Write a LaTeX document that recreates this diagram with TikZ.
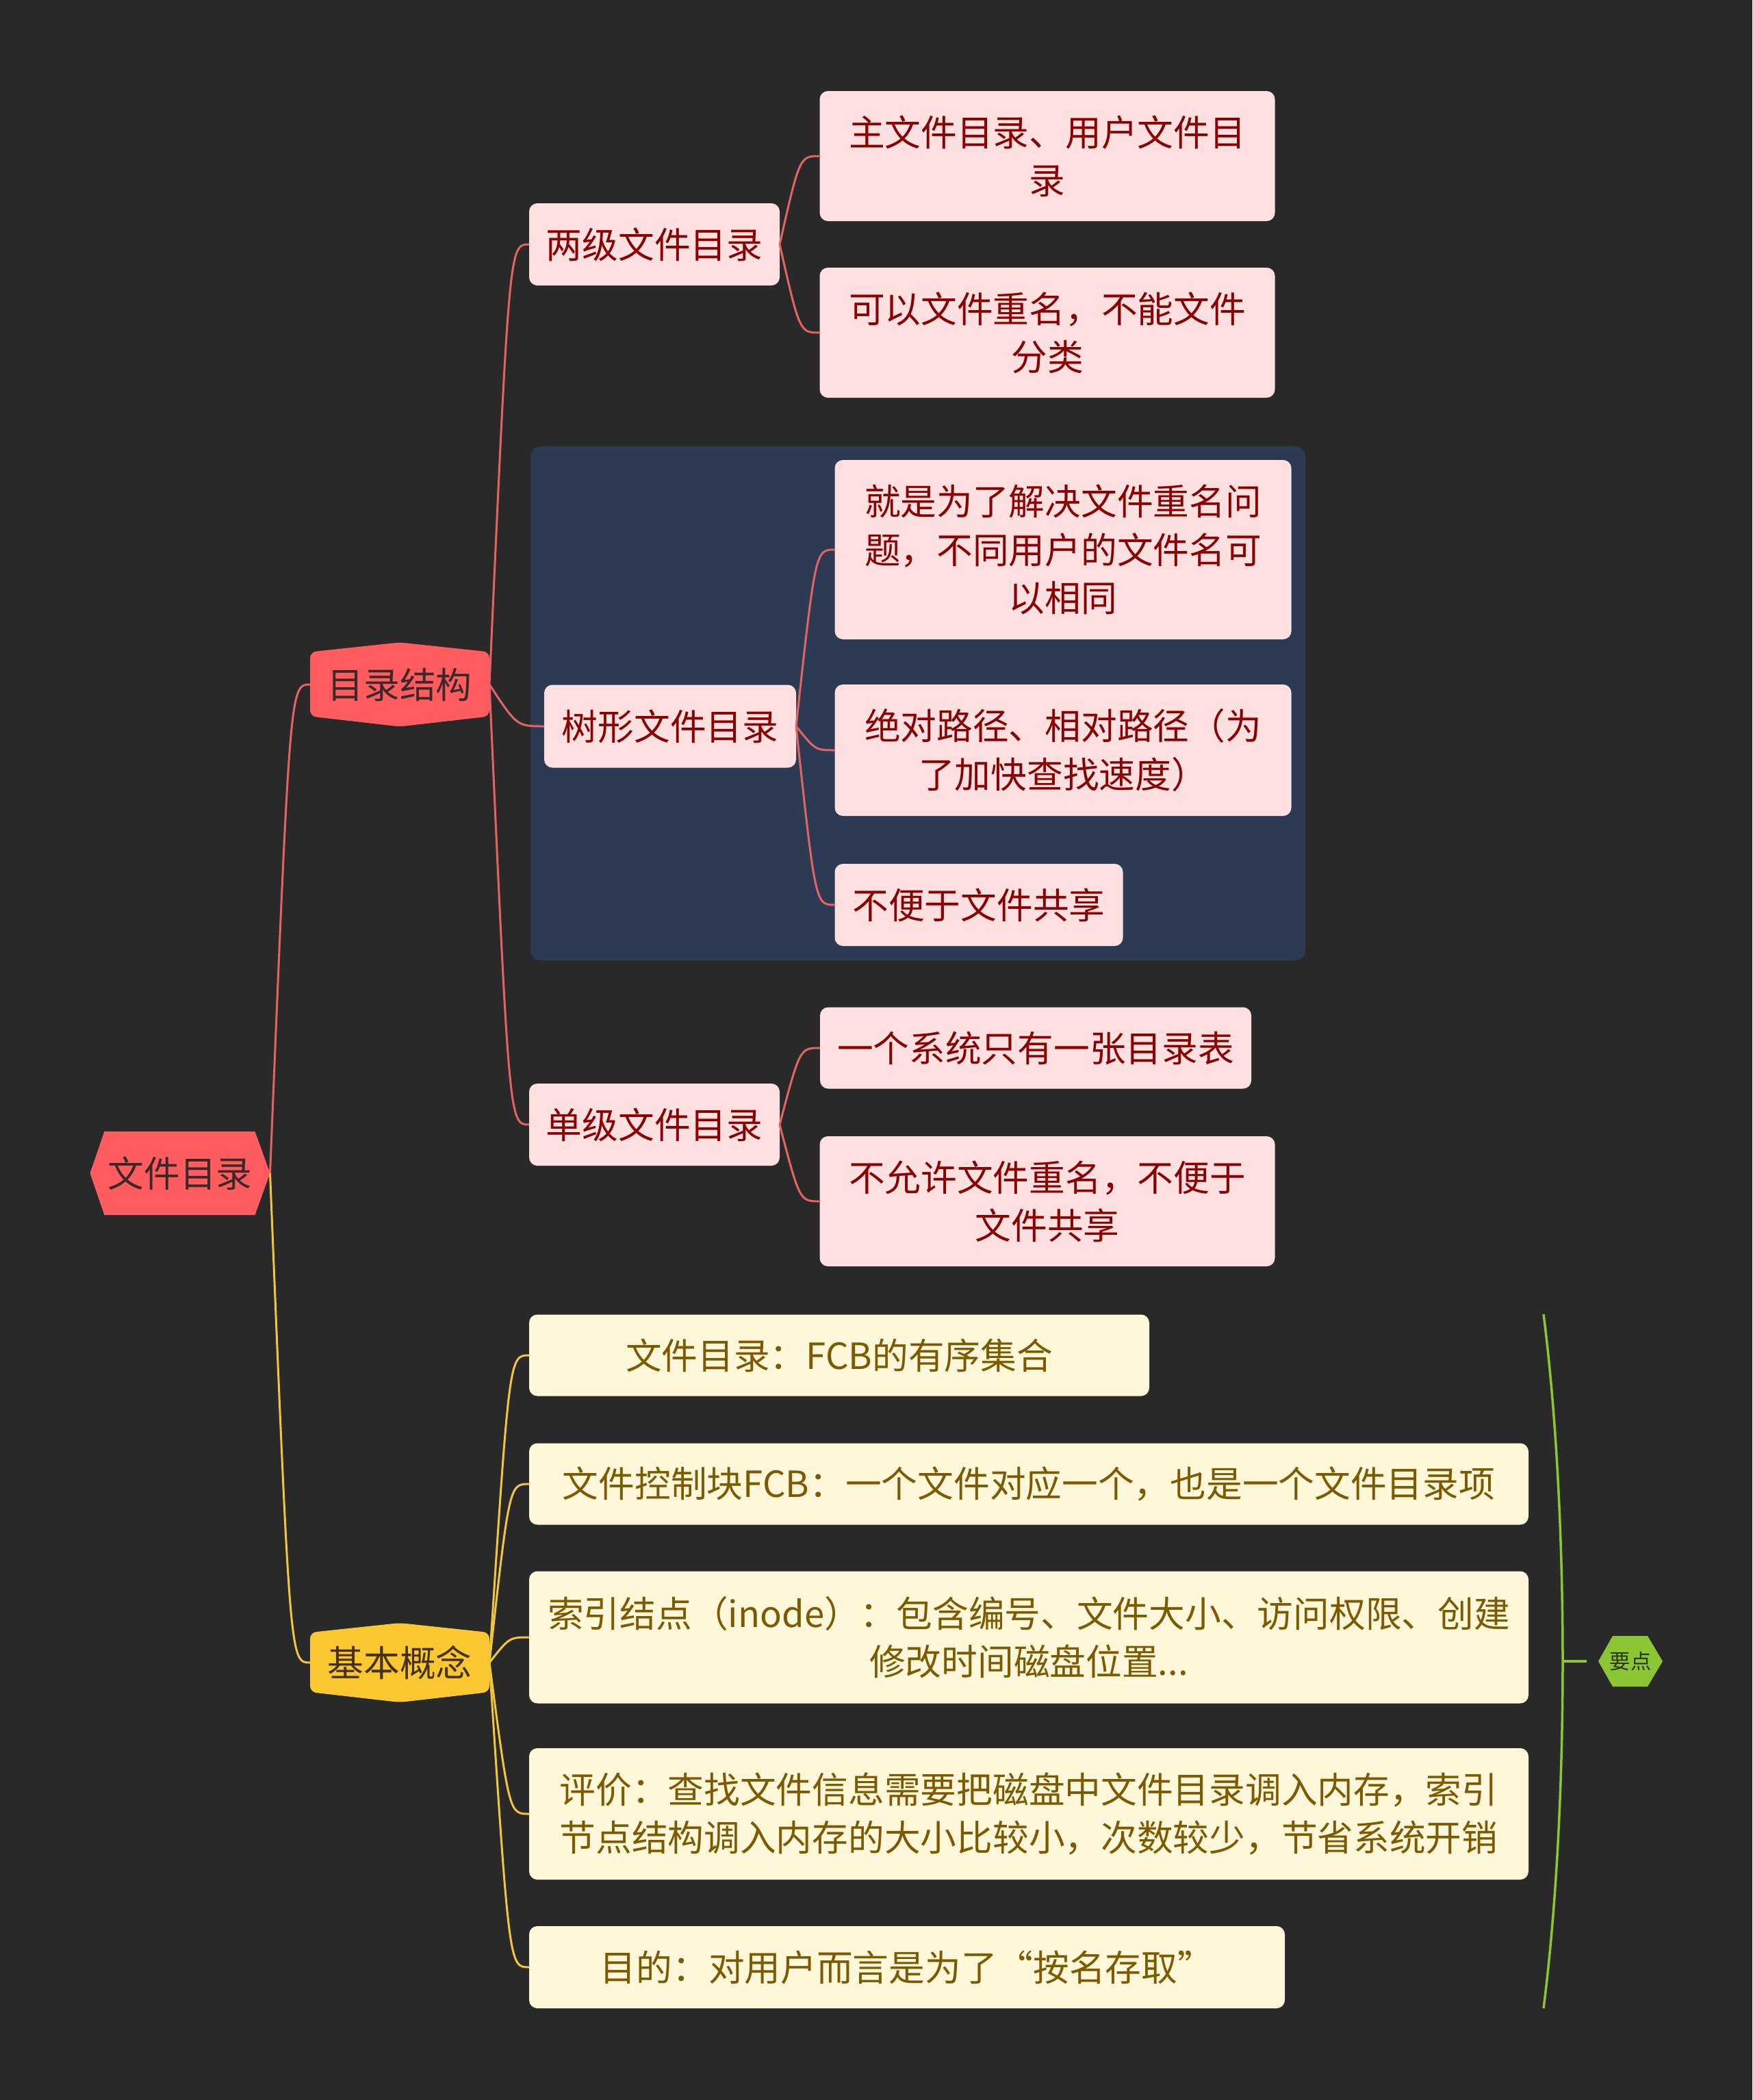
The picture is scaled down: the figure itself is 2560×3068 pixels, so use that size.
\documentclass[tikz,border=0pt]{standalone}
\usepackage{fontspec}
\setmainfont{Noto Sans CJK SC}
\usetikzlibrary{calc}
\definecolor{bgc}{RGB}{41,41,41}
\definecolor{bluebg}{RGB}{44,58,84}
\definecolor{rootred}{RGB}{255,92,95}
\definecolor{roottext}{RGB}{60,40,40}
\definecolor{goldfill}{RGB}{252,200,50}
\definecolor{goldtext}{RGB}{70,50,10}
\definecolor{pinkfill}{RGB}{255,224,224}
\definecolor{pinktext}{RGB}{139,0,0}
\definecolor{creamfill}{RGB}{255,247,218}
\definecolor{creamtext}{RGB}{125,90,0}
\definecolor{linered}{RGB}{228,100,100}
\definecolor{lineyellow}{RGB}{242,198,60}
\definecolor{greenc}{RGB}{140,198,50}
\definecolor{greentext}{RGB}{40,55,10}
\newcommand\myconn[3]{\draw[#1] (#2) .. controls ($(#2 |- #3)!0.5!(#3)$) .. (#3);}
\begin{document}
\begin{tikzpicture}[x=0.1mm,y=-0.1mm,
  base/.style={rectangle, inner sep=0pt, outer sep=0pt, align=center, font=\fontsize{15}{20}\selectfont},
  pinkbox/.style={base, rounded corners=1.2mm, fill=pinkfill, text=pinktext},
  creambox/.style={base, rounded corners=1.2mm, fill=creamfill, text=creamtext},
  hexh/.style={base, path picture={\fill[#1] (path picture bounding box.west) -- ([xshift=2.1mm]path picture bounding box.north west) -- ([xshift=-2.2mm]path picture bounding box.north east) -- (path picture bounding box.east) -- ([xshift=-2.2mm]path picture bounding box.south east) -- ([xshift=2.1mm]path picture bounding box.south west) -- cycle;}},
  hexv/.style={base, path picture={\fill[#1, rounded corners=0.9mm] (path picture bounding box.north) -- ([yshift=-1.4mm]path picture bounding box.north east) -- ([yshift=1.5mm]path picture bounding box.south east) -- (path picture bounding box.south) -- ([yshift=1.5mm]path picture bounding box.south west) -- ([yshift=-1.4mm]path picture bounding box.north west) -- cycle;}},
  redcon/.style={draw=linered, line width=0.3mm},
  yelcon/.style={draw=lineyellow, line width=0.3mm},
  greencon/.style={draw=greenc, line width=0.35mm}
]
\fill[bgc] (0,0) rectangle (2560,3068);
\useasboundingbox (0,0) rectangle (2560,3068);
\fill[bluebg, rounded corners=1.5mm] (775,652) rectangle (1907,1403);

% root and main branches
\node[hexh=rootred, text=roottext, minimum width=26.3mm, minimum height=12.2mm] (root) at (263,1714) {文件目录};
\node[hexv=rootred, text=roottext, minimum width=26.2mm, minimum height=12.3mm] (mulu) at (584,1000) {目录结构};
\node[hexv=goldfill, text=goldtext, minimum width=26.2mm, minimum height=11.6mm] (jiben) at (584,2429) {基本概念};

% level 2
\node[pinkbox, minimum width=36.6mm, minimum height=12mm] (lj) at (956,357) {两级文件目录};
\node[pinkbox, minimum width=36.8mm, minimum height=12.1mm] (sx) at (979,1061) {树形文件目录};
\node[pinkbox, minimum width=36.6mm, minimum height=12mm] (dj) at (956,1643) {单级文件目录};

% pink leaves
\node[pinkbox, minimum width=66.5mm, minimum height=19mm] (l1) at (1530,228) {主文件目录、用户文件目\\录};
\node[pinkbox, minimum width=66.5mm, minimum height=19mm] (l2) at (1530,486) {可以文件重名，不能文件\\分类};
\node[pinkbox, minimum width=66.7mm, minimum height=26.2mm] (l3) at (1553,803) {就是为了解决文件重名问\\题，不同用户的文件名可\\以相同};
\node[pinkbox, minimum width=66.7mm, minimum height=19.2mm] (l4) at (1553,1096) {绝对路径、相对路径（为\\了加快查找速度）};
\node[pinkbox, minimum width=42.1mm, minimum height=12mm] (l5) at (1430,1322) {不便于文件共享};
\node[pinkbox, minimum width=63mm, minimum height=11.9mm] (l6) at (1513,1531) {一个系统只有一张目录表};
\node[pinkbox, minimum width=66.5mm, minimum height=19mm] (l7) at (1530,1755) {不允许文件重名，不便于\\文件共享};

% cream leaves
\node[creambox, minimum width=90.6mm, minimum height=11.9mm] (y1) at (1226,1980) {文件目录：FCB的有序集合};
\node[creambox, minimum width=146mm, minimum height=11.9mm] (y2) at (1503,2168) {文件控制块FCB：一个文件对应一个，也是一个文件目录项};
\node[creambox, minimum width=146mm, minimum height=19.3mm] (y3) at (1503,2392) {索引结点（inode）：包含编号、文件大小、访问权限、创建\\修改时间磁盘位置...};
\node[creambox, minimum width=146mm, minimum height=19.2mm] (y4) at (1503,2650) {评价：查找文件信息需要把磁盘中文件目录调入内存，索引\\节点结构调入内存的大小比较小，次数较少，节省系统开销};
\node[creambox, minimum width=110.4mm, minimum height=12mm] (y5) at (1325,2874) {目的：对用户而言是为了“按名存取”};

% summary bracket
\coordinate (brtop) at (2255,1920);
\coordinate (brmid) at (2283,2427);
\coordinate (brbot) at (2255,2934);
\coordinate (tickend) at (2318,2427);
\node[hexh=greenc, text=greentext, font=\fontsize{8.6}{10}\selectfont, minimum width=9.4mm, minimum height=7.4mm] (yd) at (2382,2427) {要点};

% connectors
\myconn{redcon}{root.east}{mulu.west}
\myconn{yelcon}{root.east}{jiben.west}
\myconn{redcon}{mulu.east}{lj.west}
\myconn{redcon}{mulu.east}{sx.west}
\myconn{redcon}{mulu.east}{dj.west}
\myconn{redcon}{lj.east}{l1.west}
\myconn{redcon}{lj.east}{l2.west}
\myconn{redcon}{sx.east}{l3.west}
\myconn{redcon}{sx.east}{l4.west}
\myconn{redcon}{sx.east}{l5.west}
\myconn{redcon}{dj.east}{l6.west}
\myconn{redcon}{dj.east}{l7.west}
\myconn{yelcon}{jiben.east}{y1.west}
\myconn{yelcon}{jiben.east}{y2.west}
\myconn{yelcon}{jiben.east}{y3.west}
\myconn{yelcon}{jiben.east}{y4.west}
\myconn{yelcon}{jiben.east}{y5.west}
\draw[greencon] (brtop) .. controls (2278,2100) and (2283,2300) .. (brmid) .. controls (2283,2554) and (2278,2754) .. (brbot);
\draw[greencon] (brmid) -- (tickend);
\end{tikzpicture}
\end{document}
